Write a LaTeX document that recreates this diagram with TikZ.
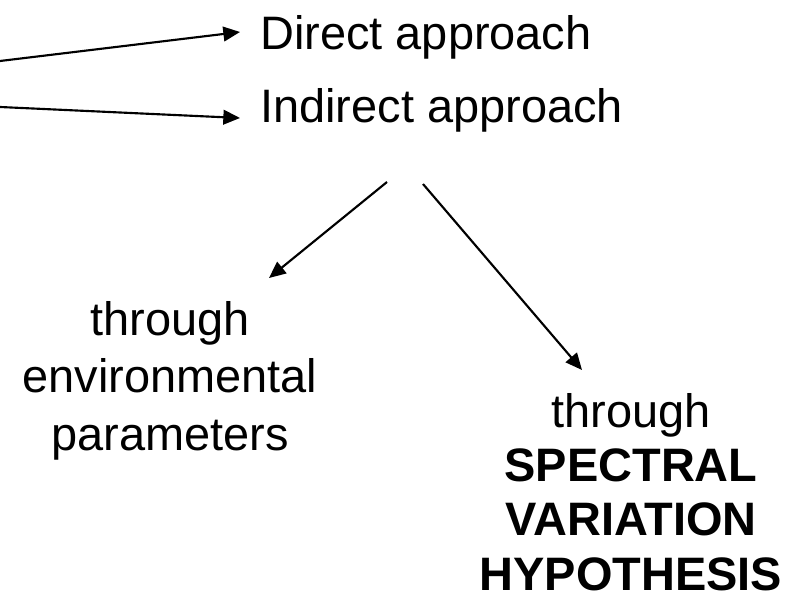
\documentclass[tikz,border=0pt]{standalone}
\usepackage{fontspec}
\setmainfont{Liberation Sans}
\usetikzlibrary{arrows.meta}

\tikzset{
  arr/.style={line width=1.6pt,-{Triangle[length=12.5pt,width=11pt]}},
  lbl/.style={inner sep=0pt,font=\fontsize{35.2}{43.1}\selectfont},
}

\begin{document}
\begin{tikzpicture}[x=0.75pt,y=0.75pt,yscale=-1,xscale=1]
\useasboundingbox (0,0) rectangle (787,605);

% Text Node
\node [lbl,anchor=base west] (direct) at (260,50) {Direct approach};
% Text Node
\node [lbl,anchor=base west] (indirect) at (260,123) {Indirect approach};
% Text Node
\node [lbl,anchor=base,align=center] (envpar) at (170,450) {through\\environmental\\parameters};
% Text Node
\node [lbl,anchor=base,align=center,font=\fontsize{35.2}{40.7}\selectfont] (specvar) at (631,590)
  {through\\\textbf{SPECTRAL}\\\textbf{VARIATION}\\\textbf{HYPOTHESIS}};

\coordinate (srcdir) at (0,61);
\coordinate (srcind) at (0,107);
\coordinate (splitl) at (387,182);
\coordinate (splitr) at (423,184);

%Straight Lines
\draw [arr] (srcdir) -- ([shift={(-20,-18)}]direct.base west);
\draw [arr] (srcind) -- ([shift={(-20,-5)}]indirect.base west);
\draw [arr] (splitl) -- ([shift={(99,-172)}]envpar.base);
\draw [arr] (splitr) -- ([shift={(-49,-220)}]specvar.base);

\end{tikzpicture}
\end{document}
